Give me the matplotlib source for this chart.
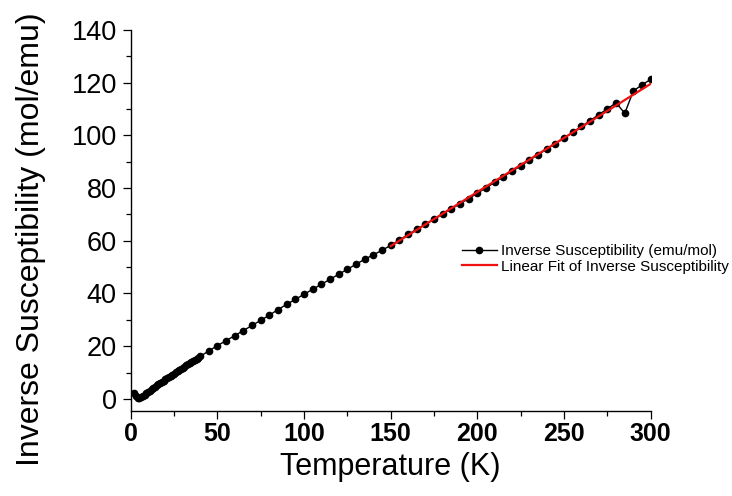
import matplotlib.pyplot as plt
from matplotlib.ticker import MultipleLocator

plt.rcParams['font.family'] = ['Liberation Sans', 'DejaVu Sans']

temp_low = [2, 3, 4, 5, 6, 7, 8, 9, 10, 11, 12, 13, 14, 15, 16, 17, 18, 19, 20,
            21, 22, 23, 24, 25, 26, 27, 28, 29, 30, 31, 32, 33, 34, 35, 36, 37,
            38, 39, 40]
inv_chi_low = [2.3, 1.1, 0.5, 0.4, 0.7, 1.1, 1.6, 2.1, 2.6, 3.1, 3.6, 4.1, 4.6,
               5.1, 5.6, 6.0, 6.5, 6.9, 7.4, 7.8, 8.3, 8.7, 9.2, 9.6, 10.1,
               10.5, 10.9, 11.4, 11.8, 12.2, 12.7, 13.1, 13.5, 14.0, 14.4,
               14.8, 15.2, 15.6, 16.1]
temp_high = [45, 50, 55, 60, 65, 70, 75, 80, 85, 90, 95, 100, 105, 110, 115,
             120, 125, 130, 135, 140, 145, 150, 155, 160, 165, 170, 175, 180,
             185, 190, 195, 200, 205, 210, 215, 220, 225, 230, 235, 240, 245,
             250, 255, 260, 265, 270, 275, 280, 285, 290, 295, 300]
inv_chi_high = [18.2, 20.2, 22.1, 24.0, 25.9, 27.9, 29.8, 31.8, 33.9, 35.9,
                37.8, 39.7, 41.6, 43.5, 45.4, 47.3, 49.2, 51.1, 53.0, 54.7,
                56.4, 58.3, 60.3, 62.4, 64.4, 66.3, 68.2, 70.1, 72.1, 74.1,
                76.0, 78.1, 80.1, 82.2, 84.3, 86.4, 88.4, 90.6, 92.7, 94.8,
                96.9, 99.0, 101.2, 103.4, 105.6, 107.9, 110.1, 112.4, 108.4,
                116.9, 119.2, 121.3]

# linear fit end points
fit_temp = [150, 300]
fit_inv_chi = [58.0, 119.6]

temp = temp_low + temp_high
inv_chi = inv_chi_low + inv_chi_high

fig = plt.figure(figsize=(7.32, 4.96), dpi=100)
ax = fig.add_axes([0.1786, 0.1714, 0.7104, 0.768])

ax.plot(temp, inv_chi, color='black', linewidth=1, marker='o', markersize=4.5,
        label='Inverse Susceptibility (emu/mol)')
ax.plot(fit_temp, fit_inv_chi, color='#ee1111', linewidth=1.6,
        label='Linear Fit of Inverse Susceptibility')

ax.set_xlim(0, 300)
ax.set_ylim(-4.6, 140)
ax.xaxis.set_major_locator(MultipleLocator(50))
ax.xaxis.set_minor_locator(MultipleLocator(25))
ax.yaxis.set_major_locator(MultipleLocator(20))
ax.yaxis.set_minor_locator(MultipleLocator(10))

ax.spines['top'].set_visible(False)
ax.spines['right'].set_visible(False)
for s in ['left', 'bottom']:
    ax.spines[s].set_linewidth(1.0)

ax.tick_params(which='major', direction='out', length=6, width=0.9)
ax.tick_params(which='minor', direction='out', length=3.5, width=0.9)
ax.tick_params(axis='y', labelsize=19.5, pad=4)
ax.tick_params(axis='x', labelsize=18, pad=2)
for lab in ax.get_xticklabels():
    lab.set_fontweight('bold')

ax.set_xlabel('Temperature (K)', fontsize=22, labelpad=4)
ax.set_ylabel('Inverse Susceptibility (mol/emu)', fontsize=23)
ax.yaxis.set_label_coords(-0.163, 0.45)

ax.legend(loc='upper left', bbox_to_anchor=(0.6307, 0.508),
          bbox_transform=fig.transFigure, frameon=False, fontsize=11,
          handlelength=2.3, handletextpad=0.3, labelspacing=0.1,
          borderpad=0, borderaxespad=0)

fig.savefig('out.png', dpi=100)
